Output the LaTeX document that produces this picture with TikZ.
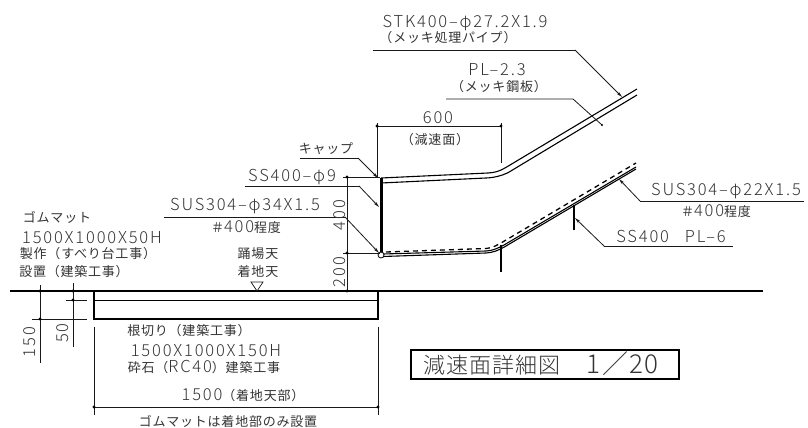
\documentclass[tikz,border=0pt]{standalone}
\usepackage{fontspec}
\usepackage{tikz}
\usetikzlibrary{arrows.meta}
\setmainfont{Noto Sans CJK JP}[UprightFont=* Light,BoldFont=* Light,LetterSpace=11]
\newfontfamily\smallfam{Noto Sans CJK JP}[LetterSpace=6]
\newfontfamily\titlefam{Noto Sans CJK JP}[UprightFont=* Light,LetterSpace=5]
\definecolor{inkline}{gray}{0.1}
\definecolor{inktext}{gray}{0.2}
\newcommand{\bigtxt}{\fontsize{16.5}{18}\rmfamily\selectfont}
\newcommand{\smalltxt}{\fontsize{13}{14}\smallfam\selectfont}
\tikzset{
	lbl/.style={text=inktext,font=\bigtxt,inner sep=0pt,text height=12pt,text depth=0pt},
	lblsmall/.style={text=inktext,font=\smalltxt,inner sep=0pt,text height=11.4pt,text depth=1.6pt},
	thinline/.style={inkline,line width=0.7pt},
	rail/.style={black,line width=1.1pt,line join=round},
	leader/.style={inkline,line width=0.8pt,-{Stealth[length=6pt,width=3pt]}},
	tick/.style={circle,fill=black,inner sep=0pt,minimum size=3.2pt},
}
\newcommand{\tik}[1]{\node[tick] at (#1) {};}

\begin{document}
\begin{tikzpicture}[x=1pt,y=-1pt]
	\useasboundingbox (0,0) rectangle (808,428);
	\begin{scope}
		\coordinate (postT) at (381,178);
		\coordinate (postB) at (381,255);

		\draw[black,line width=1.5pt] (10,291) to (763,291);
		\draw[black,line width=1.1pt] (94,291) rectangle (378,319);
		\draw[black,line width=1pt] (94,300) to (378,300);

		\draw[rail] (postT) to (488,173) .. controls (495,172.7) and (500,171) .. (506,167.4) to (637,89);
		\draw[rail] (381,183) to (486,178) .. controls (494,177.7) and (501,176) .. (508,172.7) to (637,95);
		\draw[rail] (383,256.5) to (486,253) .. controls (493,252.7) and (499,250) .. (504,247.2) to (636,169);
		\draw[rail] (383,254) to (486,251) .. controls (493,250.7) and (498,248) .. (503,245.6) to (636,167);
		\draw[black,line width=1.3pt,dash pattern=on 5pt off 4pt] (386,252) to (486,248.5) .. controls (493,248) and (497,245) .. (502,242.4) to (636,163);
		\draw[black,line width=3pt] (postT) to (postB);
		\draw[black,line width=2.4pt] (501,245) to (501,272);
		\draw[black,line width=2.4pt] (574,205) to (574,230);
		\node[circle,draw=black,fill=white,line width=0.8pt,inner sep=0pt,minimum size=6pt] (joint) at (postB) {};

		\draw[thinline] (377,123) to (377,177);
		\draw[thinline] (501,123) to (501,163);
		\draw[thinline] (377,126) to (501,126);
		\tik{377,126} \tik{501,126}

		\draw[thinline] (347,177) to (347,292);
		\draw[thinline] (343,177) to (380,177);
		\draw[thinline] (343,253) to (380,253);
		\tik{347,177} \tik{347,253} \tik{347,291}

		\draw[thinline] (40,285) to (40,363);
		\draw[thinline] (73,283) to (73,347);
		\draw[thinline] (32,319) to (87,319);
		\draw[thinline] (66,300) to (87,300);
		\tik{40,291} \tik{40,319} \tik{73,291} \tik{73,300}

		\draw[thinline] (94,327) to (94,415);
		\draw[thinline] (378,327) to (378,415);
		\draw[thinline] (94,407) to (378,407);
		\tik{94,407} \tik{378,407}

		\draw[thinline] (251,282) to (263,282) to (257,291) to cycle;

		\draw[inkline,line width=0.8pt] (373,50) to (575,50);
		\draw[leader] (575,50) to (622,97);
		\draw[inkline,line width=0.8pt] (446,99) to (573,99) to (602,125);
		\fill[black] (602,125) circle (1.2pt);
		\draw[inkline,line width=0.8pt] (300,158) to (358,158);
		\draw[leader] (358,158) to (378,178);
		\draw[inkline,line width=0.8pt] (245,186) to (359,186);
		\draw[leader] (359,186) to (379,207);
		\draw[inkline,line width=0.8pt] (164,217) to (345,217);
		\draw[leader] (345,217) to (379,253);
		\draw[inkline,line width=0.8pt] (804,201) to (640,201);
		\draw[leader] (640,201) to (619,179);
		\draw[inkline,line width=0.8pt] (733,246) to (604,246);
		\draw[leader] (604,246) to (575,218);

		\node[lbl] (stk) at (465,22) {STK400–φ27.2X1.9};
		\node[lblsmall] (stkB) at (448,38) {（メッキ処理パイプ）};
		\node[lbl] (pl) at (497,69) {PL–2.3};
		\node[lblsmall] (plB) at (499,87) {（メッキ鋼板）};
		\node[lbl] (w) at (438,117) {600};
		\node[lblsmall] (wB) at (435,140) {（減速面）};
		\node[lblsmall] (cap) at (326,149) {キャップ};
		\node[lbl] (ss) at (292,175) {SS400–φ9};
		\node[lbl] (sus) at (245,204) {SUS304–φ34X1.5};
		\node[lblsmall] (susB) at (246,228) {＃{\bigtxt 400}程度};
		\node[lbl,rotate=90] (h) at (339,215) {400};
		\node[lbl,rotate=90] (hB) at (339,272) {200};
		\node[lbl] (sr) at (726,189) {SUS304–φ22X1.5};
		\node[lblsmall] (srB) at (716,212) {＃{\bigtxt 400}程度};
		\node[lbl] (pr) at (671,236) {SS400\hspace{16pt}PL–6};
		\node[lblsmall] (mat) at (57,218) {ゴムマット};
		\node[lbl] (matB) at (92,237) {1500X1000X50H};
		\node[lblsmall] (matC) at (88,254) {製作（すべり台工事）};
		\node[lblsmall] (matD) at (74,272) {設置（建築工事）};
		\node[lblsmall] (top) at (258,254) {踊場天};
		\node[lblsmall] (topB) at (258,272) {着地天};
		\node[lbl,rotate=90] (d) at (29,342) {150};
		\node[lbl,rotate=90] (dB) at (62,333) {50};
		\node[lblsmall] (pit) at (189,331) {根切り（建築工事）};
		\node[lbl] (pitB) at (206,350) {1500X1000X150H};
		\node[lblsmall] (pitC) at (204,368) {砕石（{\bigtxt RC40}）建築工事};
		\node[lblsmall] (len) at (243,396) {{\bigtxt 1500}（着地天部）};
		\node[lblsmall] (note) at (228,422) {ゴムマットは着地部のみ設置};

		\node[draw=black,line width=1.1pt,minimum width=268pt,minimum height=29pt,inner sep=0pt] (title) at (545,364.5) {};
		\node[text=inktext,inner sep=0pt,font=\fontsize{22}{24}\titlefam\selectfont,text height=19pt,text depth=1pt] (titleT) at (541,364.5) {減速面詳細図\hspace{26pt}{\fontsize{26}{28}\selectfont 1／20}};
	\end{scope}
\end{tikzpicture}
\end{document}
